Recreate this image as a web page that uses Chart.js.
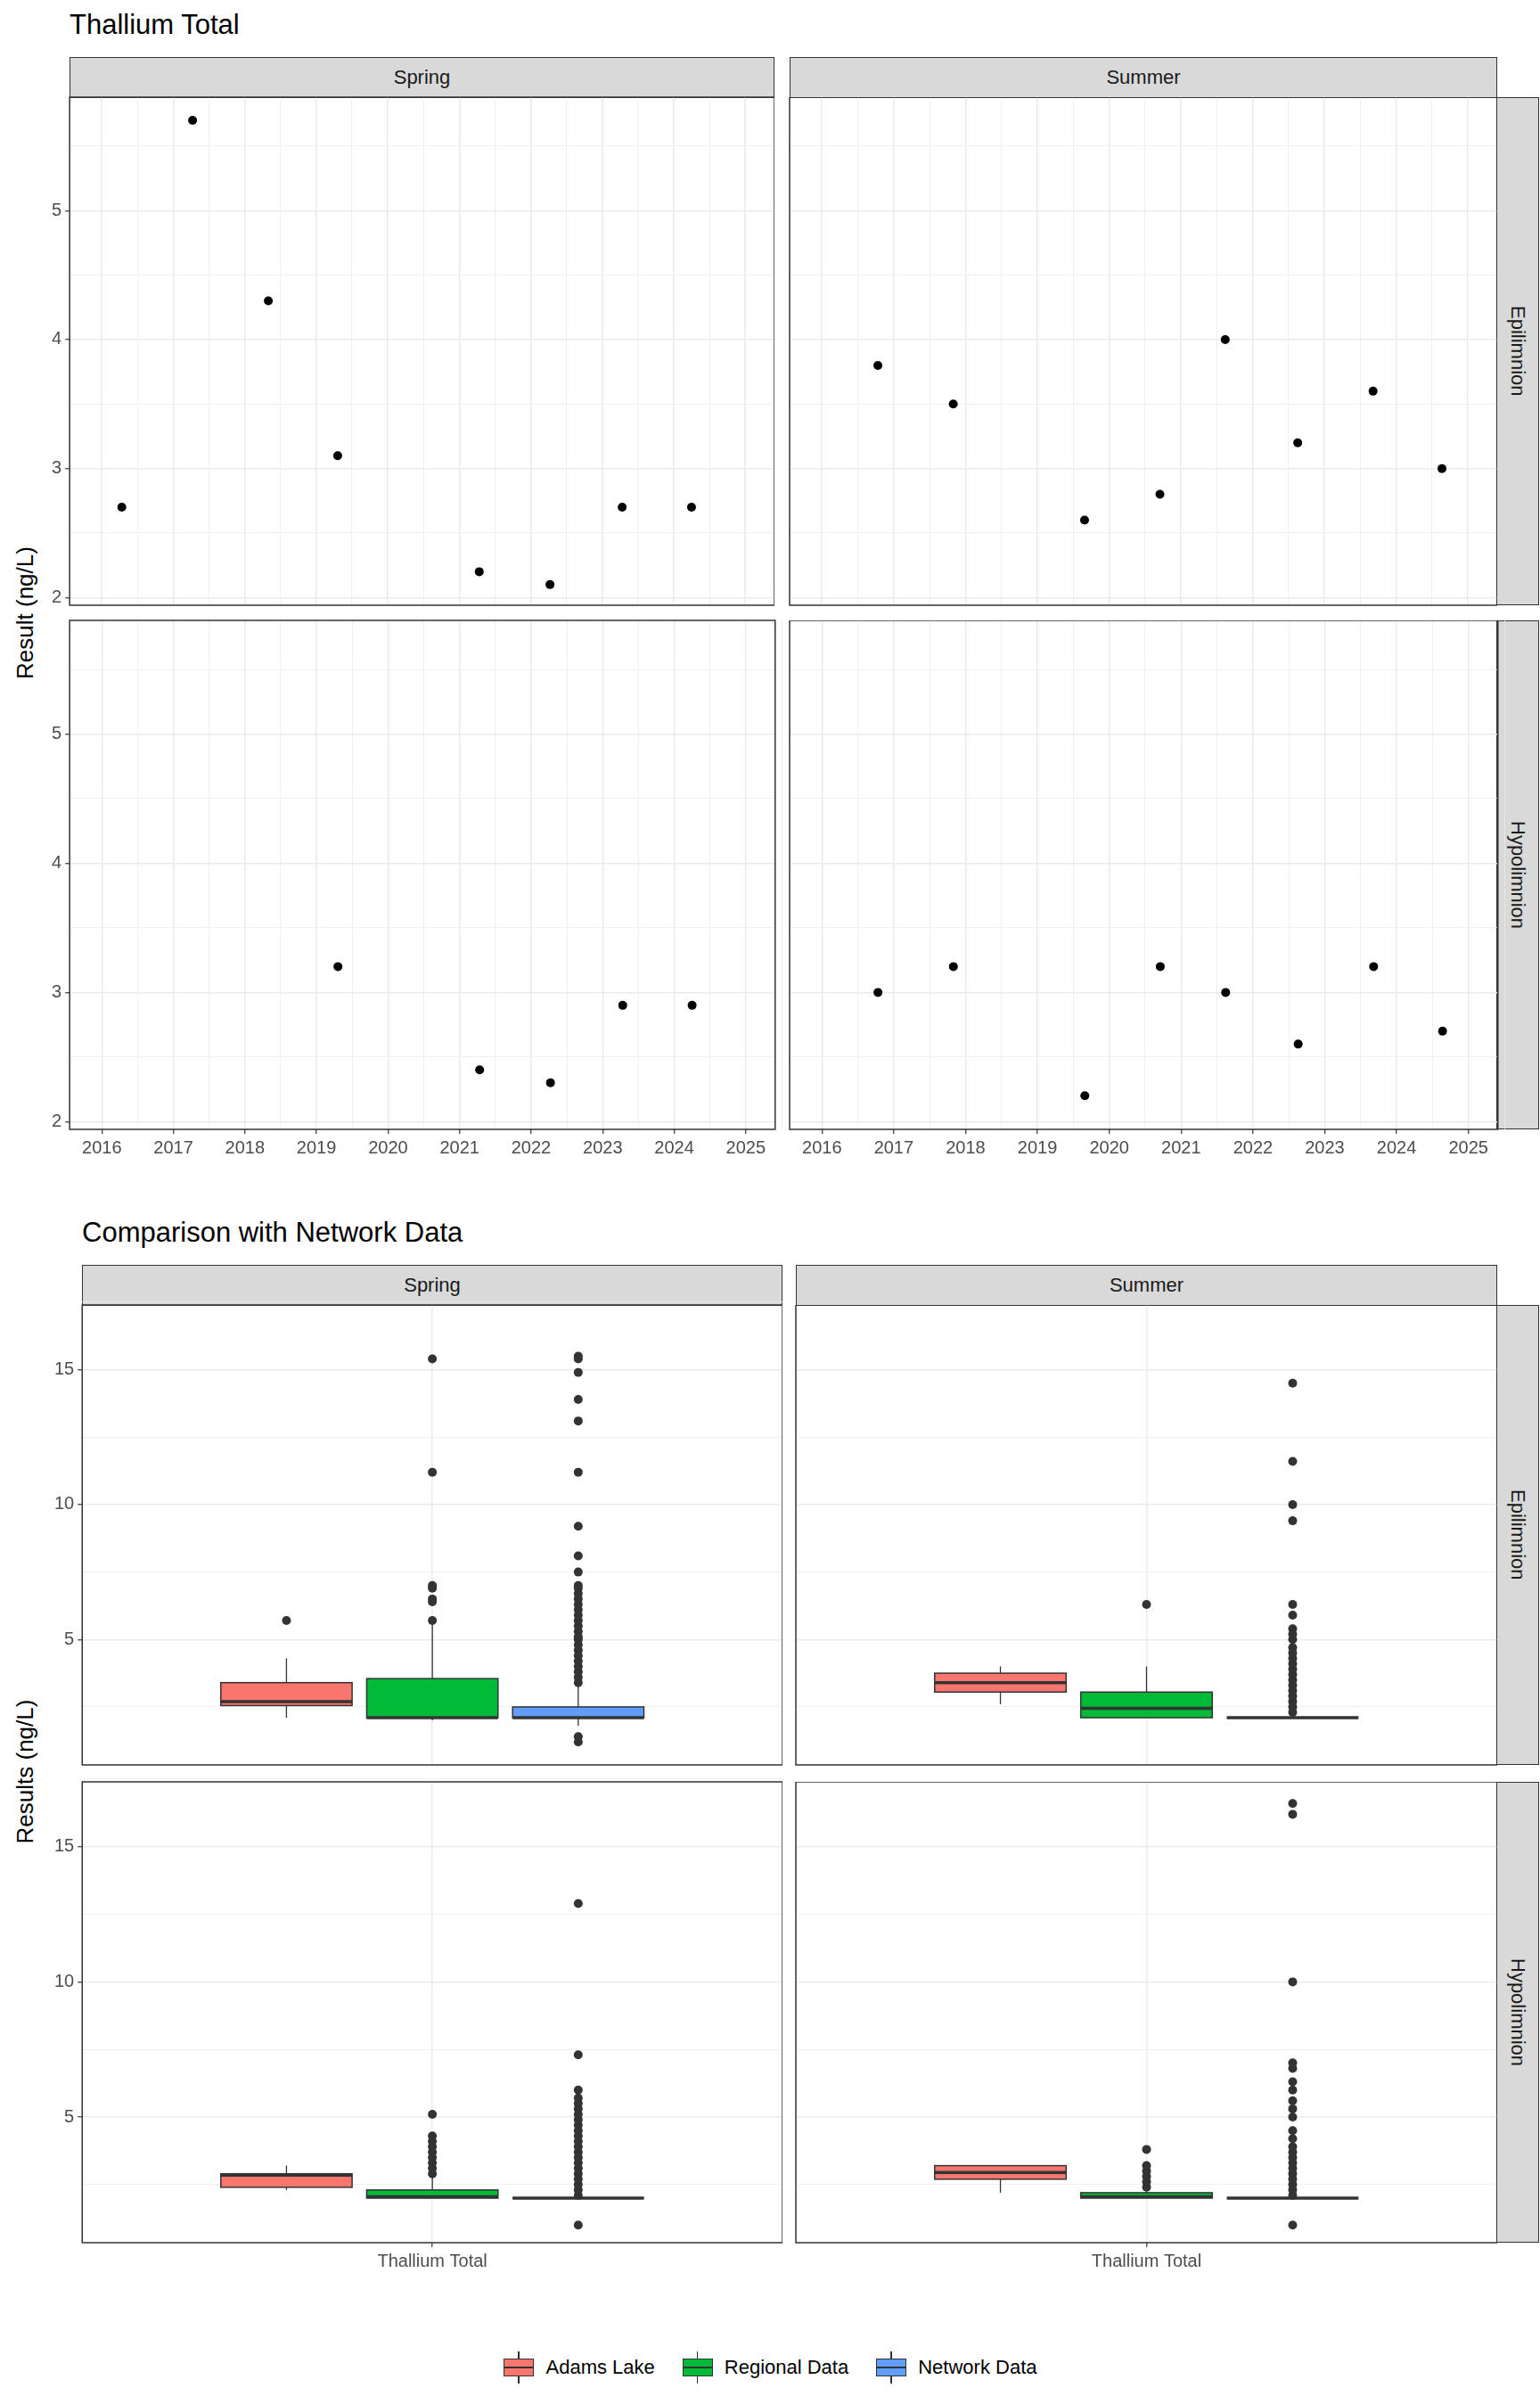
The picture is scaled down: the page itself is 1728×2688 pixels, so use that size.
<!DOCTYPE html>
<html><head><meta charset="utf-8">
<script src="https://cdn.jsdelivr.net/npm/chart.js@4"></script>
<style>
body{margin:0;width:1728px;height:2688px;background:#fff;position:relative;font-family:"Liberation Sans",Arial,sans-serif;overflow:hidden}
canvas,.abs{position:absolute}
.strip{position:absolute;background:#D9D9D9;border:1.5px solid #333;box-sizing:border-box;display:flex;align-items:center;justify-content:center;font-size:22px;color:#1A1A1A}
.vt{writing-mode:vertical-rl}
.title{position:absolute;font-size:31px;color:#000}
.ytitle{position:absolute;font-size:26px;transform:rotate(-90deg);transform-origin:center;white-space:nowrap}
.leg{position:absolute;top:2638px;left:0;width:1728px;display:flex;justify-content:center;gap:30px;font-size:22px;align-items:center}
.li{display:flex;align-items:center;gap:12px}
.g{position:relative;width:36px;height:36px}
.g .w{position:absolute;left:17px;top:0;width:1.5px;height:36px;background:#333}
.g .b{position:absolute;left:1px;top:8px;width:34px;height:20px;border:1.5px solid #333;box-sizing:border-box}
.g .m{position:absolute;left:1px;top:17px;width:34px;height:2px;background:#333}
</style></head><body>
<script>
// ---------- data: top (decimal year, value) ----------
const springEpiYear=[2016.28,2017.27,2018.33,2019.30,2021.28,2022.27,2023.28,2024.25];
const springEpiVal=[2.7,5.7,4.3,3.1,2.2,2.1,2.7,2.7];
const summerEpiYear=[2016.78,2017.83,2019.66,2020.71,2021.62,2022.63,2023.68,2024.64];
const summerEpiVal=[3.8,3.5,2.6,2.8,4.0,3.2,3.6,3.0];
const springHypYear=[2019.30,2021.28,2022.27,2023.28,2024.25];
const springHypVal=[3.2,2.4,2.3,2.9,2.9];
const summerHypYear=[2016.78,2017.83,2019.66,2020.71,2021.62,2022.63,2023.68,2024.64];
const summerHypVal=[3.0,3.2,2.2,3.2,3.0,2.6,3.2,2.7];
const yearTicks=[2016,2017,2018,2019,2020,2021,2022,2023,2024,2025];
const topYTicks=[2,3,4,5];
const bottomYTicks=[5,10,15];
// ---------- data: boxplots [min,q1,median,q3,max] ----------
const groups=['Adams Lake','Regional Data','Network Data'];
const groupColors=['#F8766D','#00BA38','#619CFF'];
const springEpiBox=[[2.1,2.55,2.7,3.4,4.3],[2.0,2.1,2.1,3.55,5.6],[1.8,2.1,2.1,2.5,3.3]];
const springEpiOut=[[5.7],[5.7,6.4,6.5,6.9,7.0,11.2,15.4],
 [1.2,1.4,3.4,3.6,3.8,4.0,4.2,4.4,4.6,4.8,5.0,5.1,5.3,5.5,5.7,5.9,6.1,6.3,6.5,6.7,6.9,7.0,7.5,8.1,9.2,11.2,13.1,13.9,14.9,15.4,15.5]];
const summerEpiBox=[[2.6,3.05,3.4,3.75,4.0],[2.1,2.1,2.45,3.05,4.0],[2.1,2.1,2.1,2.1,2.1]];
const summerEpiOut=[[],[6.3],
 [2.3,2.5,2.7,2.9,3.1,3.3,3.5,3.7,3.9,4.1,4.3,4.5,4.7,5.0,5.2,5.4,5.9,6.3,9.4,10.0,11.6,14.5]];
const springHypBox=[[2.3,2.4,2.85,2.9,3.2],[2.0,2.0,2.05,2.3,2.8],[2.0,2.0,2.0,2.0,2.0]];
const springHypOut=[[],[2.9,3.1,3.3,3.5,3.7,3.9,4.1,4.3,5.1],
 [1.0,2.1,2.3,2.5,2.7,2.9,3.1,3.3,3.5,3.7,3.9,4.1,4.3,4.5,4.7,4.9,5.1,5.3,5.5,5.7,6.0,7.3,12.9]];
const summerHypBox=[[2.2,2.7,2.95,3.2,3.2],[2.0,2.0,2.05,2.2,2.3],[2.0,2.0,2.0,2.0,2.0]];
const summerHypOut=[[],[2.4,2.6,2.8,3.0,3.2,3.8],
 [1.0,2.1,2.3,2.5,2.7,2.9,3.1,3.3,3.5,3.7,3.9,4.2,4.5,5.0,5.3,5.6,6.0,6.3,6.8,7.0,10.0,16.2,16.6]];
const groupOffsets=[-0.25,0,0.25];
const xCategory='Thallium Total';

// ---------- helpers ----------
const AX=80, AXH=45;
const FONT='"Liberation Sans", Arial, sans-serif';
const framePlugin={id:'frame',afterDraw(c){const a=c.chartArea,x=c.ctx;x.save();x.strokeStyle='#333';x.lineWidth=1.5;x.strokeRect(a.left,a.top,a.right-a.left,a.bottom-a.top);x.restore();}};
const boxPlugin={id:'boxes',beforeDatasetsDraw(c){const bx=c.options.plugins.boxes;if(!bx||!bx.data)return;
 const x=c.ctx,xs=c.scales.x,ys=c.scales.y;x.save();
 bx.data.forEach((s,i)=>{const cx=xs.getPixelForValue(1+groupOffsets[i]),hw=xs.getPixelForValue(1.1125)-xs.getPixelForValue(1);
  const [mn,q1,md,q3,mx]=s;x.strokeStyle='#333';x.lineWidth=1.3;
  x.beginPath();x.moveTo(cx,ys.getPixelForValue(mn));x.lineTo(cx,ys.getPixelForValue(q1));x.moveTo(cx,ys.getPixelForValue(q3));x.lineTo(cx,ys.getPixelForValue(mx));x.stroke();
  const t=ys.getPixelForValue(q3),b=ys.getPixelForValue(q1);
  x.fillStyle=groupColors[i];x.fillRect(cx-hw,t,2*hw,b-t);x.lineWidth=1.5;x.strokeRect(cx-hw,t,2*hw,b-t);
  x.lineWidth=3.5;x.beginPath();x.moveTo(cx-hw,ys.getPixelForValue(md));x.lineTo(cx+hw,ys.getPixelForValue(md));x.stroke();});
 x.restore();}};

function build(o,cw,ch){
 const cv=document.createElement('canvas');
 cv.style.width=cw+'px';cv.style.height=ch+'px';cv.width=cw;cv.height=ch;document.body.appendChild(cv);
 const gridW=(ctx,maj)=>maj.includes(ctx.tick.value)?1.5:0.7;
 const chart=new Chart(cv,{type:'scatter',data:{datasets:o.datasets},
  options:{responsive:false,animation:false,devicePixelRatio:1,layout:{padding:0,autoPadding:false},
   plugins:{legend:{display:false},tooltip:{enabled:false},boxes:{data:o.boxes}},
   scales:{
    x:{type:'linear',min:o.xmin,max:o.xmax,
     afterBuildTicks:s=>{s.ticks=o.xAll.map(v=>({value:v}));},
     grid:{color:'#EBEBEB',lineWidth:c=>gridW(c,o.xMaj),drawTicks:true,tickLength:5,tickColor:'#333',tickWidth:c=>o.xTicks&&o.xMaj.includes(c.tick.value)?1.2:0},border:{display:false},
     ticks:{display:o.xTicks,maxRotation:0,autoSkip:false,padding:4,color:'#4D4D4D',font:{family:FONT,size:20},callback:v=>o.xMaj.includes(v)?(o.xLabel||String(v)):''}},
    y:{type:'linear',min:o.ymin,max:o.ymax,
     afterBuildTicks:s=>{s.ticks=o.yAll.map(v=>({value:v}));},
     grid:{color:'#EBEBEB',lineWidth:c=>gridW(c,o.yMaj),drawTicks:true,tickLength:5,tickColor:'#333',tickWidth:c=>o.yTicks&&o.yMaj.includes(c.tick.value)?1.2:0},border:{display:false},
     ticks:{display:o.yTicks,autoSkip:false,padding:4,color:'#4D4D4D',font:{family:FONT,size:20},callback:v=>o.yMaj.includes(v)?String(v):''}}}},
  plugins:[boxPlugin,framePlugin]});
 return {cv,chart};
}
function panel(o){
 let cw=o.w+AX,ch=o.h+AXH;
 let r=build(o,cw,ch);
 for(let k=0;k<3;k++){
  const a=r.chart.chartArea;const aw=a.right-a.left,ah=a.bottom-a.top;
  if(Math.abs(aw-o.w)<1&&Math.abs(ah-o.h)<1)break;
  cw=Math.round(cw+(o.w-aw));ch=Math.round(ch+(o.h-ah));
  r.chart.destroy();r.cv.remove();r=build(o,cw,ch);
 }
 const a=r.chart.chartArea;
 r.cv.style.left=(o.left-a.left)+'px';r.cv.style.top=(o.top-a.top)+'px';
}
function div(cls,txt,st){const d=document.createElement('div');d.className=cls;d.textContent=txt;Object.assign(d.style,st);document.body.appendChild(d);return d;}

// ---------- top section ----------
div('title','Thallium Total',{left:'78px',top:'10px'});
const tCols=[[78,869],[886,1680]],tRows=[[109,679],[696,1267]];
const yrAll=[];yearTicks.forEach(y=>{yrAll.push(y);yrAll.push(y+0.5);});
const topSets=[[[springEpiYear,springEpiVal],[summerEpiYear,summerEpiVal]],[[springHypYear,springHypVal],[summerHypYear,summerHypVal]]];
['Spring','Summer'].forEach((s,ci)=>div('strip',s,{left:tCols[ci][0]+'px',top:'64px',width:(tCols[ci][1]-tCols[ci][0])+'px',height:'46px'}));
['Epilimnion','Hypolimnion'].forEach((s,ri)=>div('strip vt',s,{left:'1679px',top:tRows[ri][0]+'px',width:'48px',height:(tRows[ri][1]-tRows[ri][0])+'px'}));
for(let r=0;r<2;r++)for(let c=0;c<2;c++){
 const [xs,vs]=topSets[r][c];
 panel({left:tCols[c][0],top:tRows[r][0],w:tCols[c][1]-tCols[c][0],h:tRows[r][1]-tRows[r][0],
  xmin:2015.55,xmax:2025.41,ymin:1.94,ymax:5.88,xMaj:yearTicks,xAll:yrAll,yMaj:topYTicks,yAll:[2,2.5,3,3.5,4,4.5,5,5.5],
  xTicks:r===1,yTicks:c===0,
  datasets:[{data:xs.map((x,i)=>({x,y:vs[i]})),pointRadius:5,pointBackgroundColor:'#000',pointBorderWidth:0}]});
}
div('ytitle','Result (ng/L)',{left:'-52px',top:'672px',width:'160px',textAlign:'center'});

// ---------- bottom section ----------
div('title','Comparison with Network Data',{left:'92px',top:'1365px'});
const bCols=[[92,878],[893,1680]],bRows=[[1464,1980],[1999,2516]];
['Spring','Summer'].forEach((s,ci)=>div('strip',s,{left:bCols[ci][0]+'px',top:'1419px',width:(bCols[ci][1]-bCols[ci][0])+'px',height:'46px'}));
['Epilimnion','Hypolimnion'].forEach((s,ri)=>div('strip vt',s,{left:'1679px',top:bRows[ri][0]+'px',width:'48px',height:(bRows[ri][1]-bRows[ri][0])+'px'}));
const boxSets=[[springEpiBox,summerEpiBox],[springHypBox,summerHypBox]];
const outSets=[[springEpiOut,summerEpiOut],[springHypOut,summerHypOut]];
for(let r=0;r<2;r++)for(let c=0;c<2;c++){
 const pts=[];outSets[r][c].forEach((arr,g)=>arr.forEach(v=>pts.push({x:1+groupOffsets[g],y:v})));
 panel({left:bCols[c][0],top:bRows[r][0],w:bCols[c][1]-bCols[c][0],h:bRows[r][1]-bRows[r][0],
  xmin:0.4,xmax:1.6,ymin:0.35,ymax:17.4,xMaj:[1],xAll:[1],xLabel:xCategory,yMaj:bottomYTicks,yAll:[2.5,5,7.5,10,12.5,15,17.5],
  xTicks:r===1,yTicks:c===0,boxes:boxSets[r][c],
  datasets:[{data:pts,pointRadius:5,pointBackgroundColor:'#333',pointBorderWidth:0}]});
}
div('ytitle','Results (ng/L)',{left:'-57px',top:'1972px',width:'170px',textAlign:'center'});

// legend
const leg=document.createElement('div');leg.className='leg';document.body.appendChild(leg);
groups.forEach((g,i)=>{const it=document.createElement('div');it.className='li';
 it.innerHTML='<div class="g"><div class="w"></div><div class="b" style="background:'+groupColors[i]+'"></div><div class="m"></div></div><span></span>';
 it.querySelector('span').textContent=g;leg.appendChild(it);});
</script>
</body></html>
